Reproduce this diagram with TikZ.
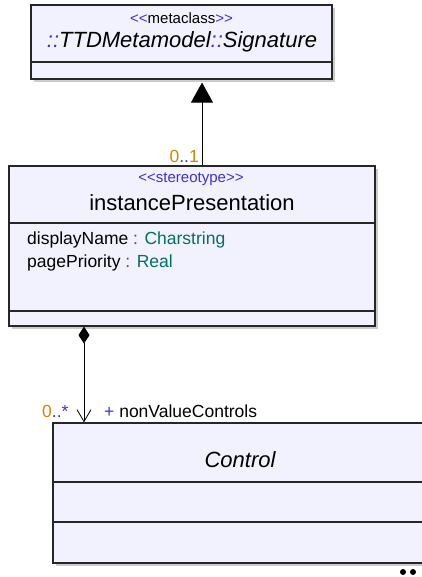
\documentclass[tikz,border=0pt]{standalone}
\usepackage{fontspec}
\setmainfont{Liberation Sans}
\usetikzlibrary{arrows.meta,shadows}
\definecolor{umlblue}{RGB}{60,50,220}
\definecolor{umlorange}{RGB}{204,136,0}
\definecolor{umlteal}{RGB}{0,112,100}
\definecolor{umlfill}{RGB}{242,242,254}

\begin{document}
\begin{tikzpicture}[x=1pt,y=-1pt,
  classbox/.style={draw=black!85,line width=1.2pt,fill=umlfill,inner sep=0pt,
    drop shadow={shadow xshift=3pt,shadow yshift=-3pt,fill=black!20,opacity=1}},
  small/.style={font=\fontsize{15}{18}\selectfont,inner sep=0pt},
  big/.style={font=\fontsize{22}{26}\selectfont,inner sep=0pt},
  attr/.style={font=\fontsize{17.5}{21}\selectfont,inner sep=0pt}]
\useasboundingbox (0,0) rectangle (422,577);
\node (sig) at (181.5,42) [classbox,minimum width=301pt,minimum height=74pt] {};
\node (inst) at (192,246) [classbox,minimum width=366pt,minimum height=160pt] {};
\node (ctrl) at (243,493) [classbox,minimum width=380pt,minimum height=140pt] {};
\draw [line width=1.2pt,black!85] (31,62) -- (332,62);
\draw [line width=1.2pt,black!85] (9,223) -- (375,223);
\draw [line width=1.2pt,black!85] (9,311) -- (375,311);
\draw [line width=1.2pt,black!85] (53,482) -- (433,482);
\draw [line width=1.2pt,black!85] (53,522) -- (433,522);
\node (sigst) at (181.5,18) [small] {\textcolor{umlblue}{<{}<}metaclass\textcolor{umlblue}{>{}>}};
\node (signame) at (182,42) [big] {\itshape\textcolor{umlblue}{::}TTDMetamodel\textcolor{umlblue}{::}Signature};
\node (instst) at (191,179) [small,umlblue] {<{}<stereotype>{}>};
\node (instname) at (192,203) [big] {instancePresentation};
\node (disp) at (27,240) [attr,anchor=west] {displayName \textcolor{umlblue}{:} \textcolor{umlteal}{Charstring}};
\node (prio) at (27,263) [attr,anchor=west] {pagePriority \textcolor{umlblue}{:} \textcolor{umlteal}{Real}};
\node (ctrlname) at (240,460) [big] {\itshape Control};
\coordinate (ext) at (202,0);
\coordinate (comp) at (84,0);
\draw [line width=0.8pt,-{Triangle[width=22pt,length=20pt]}] (inst.north -| ext) -- ([yshift=-3pt]sig.south -| ext);
\draw [line width=0.8pt,{Diamond[width=11pt,length=17pt]}-{Straight Barb[length=12pt,width=14pt]}] (inst.south -| comp) -- (ctrl.north -| comp);
\node (m1) at (199,156) [attr,anchor=east,umlorange] {0\textcolor{umlblue}{..}1};
\node (m2) at (42,411) [attr,anchor=west,umlorange] {0\textcolor{umlblue}{..*}};
\node (role) at (104,411) [attr,anchor=west] {\textcolor{umlblue}{+} nonValueControls};
\fill (403,572) circle (3pt);
\fill (413,572) circle (3pt);
\end{tikzpicture}
\end{document}
